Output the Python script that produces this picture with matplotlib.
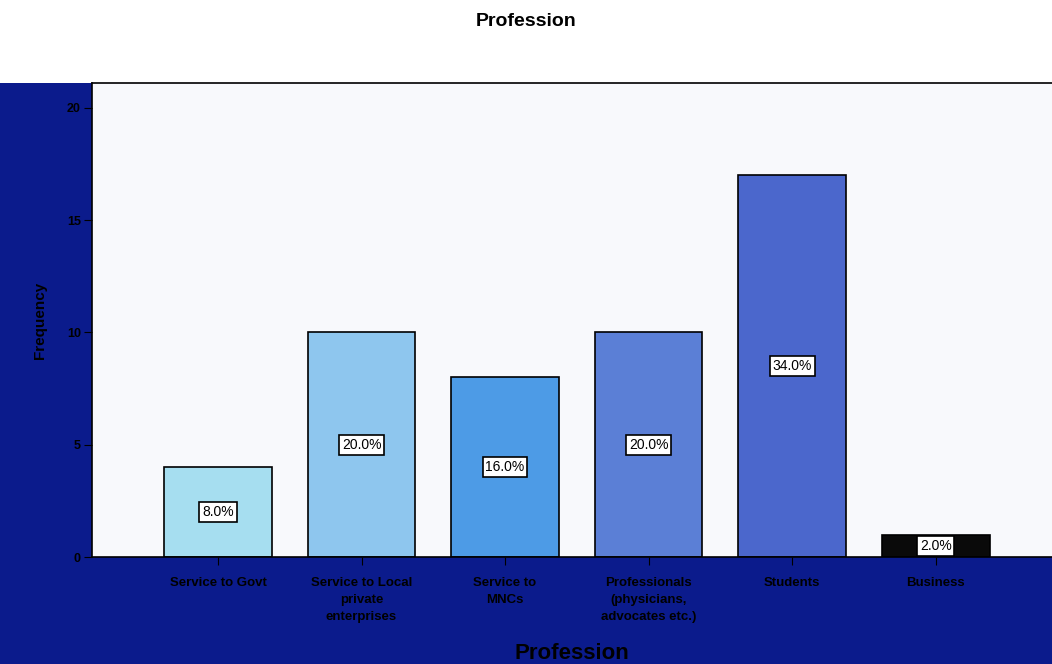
import numpy as np
import matplotlib.pyplot as plt
from matplotlib.patches import Rectangle

# Data
professions = ["Service to Govt", "Service to Local\nprivate\nenterprises", "Service to\nMNCs",
               "Professionals\n(physicians,\nadvocates etc.)", "Students", "Business"]
frequency = [4, 10, 8, 10, 17, 1]
percent_labels = ["8.0%", "20.0%", "16.0%", "20.0%", "34.0%", "2.0%"]
bar_colors = ["#a6def0", "#8ec6ee", "#4d9be6", "#5b7fd6", "#4b67cc", "#0a0a0a"]

plt.rcParams['font.family'] = ['Liberation Sans', 'DejaVu Sans']

fig = plt.figure(figsize=(10.52, 6.64), dpi=100)
fig.patch.set_facecolor("white")

navy = "#0b1b8c"
# dark frame on left and bottom
fig.patches.append(Rectangle((0, 0), 0.0875, 0.875, transform=fig.transFigure,
                             facecolor=navy, edgecolor="none", zorder=-5))
fig.patches.append(Rectangle((0, 0), 1.0, 0.161, transform=fig.transFigure,
                             facecolor=navy, edgecolor="none", zorder=-5))

ax = fig.add_axes([0.0875, 0.161, 0.9125, 0.714])
ax.set_facecolor("#f8f9fc")

x = np.arange(len(professions))
bars = ax.bar(x, frequency, width=0.75, color=bar_colors, edgecolor="black", linewidth=1.2)

for xi, f, lab in zip(x, frequency, percent_labels):
    ax.text(xi, f / 2, lab, ha="center", va="center", fontsize=10,
            bbox=dict(boxstyle="square,pad=0.2", facecolor="white", edgecolor="black", linewidth=1.2))

ax.set_xlim(-0.877, 5.81)
ax.set_ylim(0, 21.1)
ax.set_yticks([0, 5, 10, 15, 20])
ax.set_xticks(x)
ax.set_xticklabels(professions, fontsize=9.5, fontweight="bold", color="black", linespacing=1.6)
ax.tick_params(axis="y", labelsize=9, colors="black", length=6, pad=2)
for t in ax.get_yticklabels():
    t.set_fontweight("bold")
ax.tick_params(axis="x", length=6, colors="black", pad=8)

ax.spines["right"].set_visible(False)
ax.spines["top"].set_linewidth(1.2)
ax.spines["left"].set_linewidth(1.2)
ax.spines["bottom"].set_linewidth(1.2)

ax.set_ylabel("Frequency", fontsize=11, fontweight="bold", color="black", labelpad=14)
ax.set_xlabel("Profession", fontsize=16, fontweight="bold", color="black", labelpad=14)

fig.suptitle("Profession", fontsize=14, fontweight="bold", y=0.98)

plt.savefig("out.png", dpi=100)
